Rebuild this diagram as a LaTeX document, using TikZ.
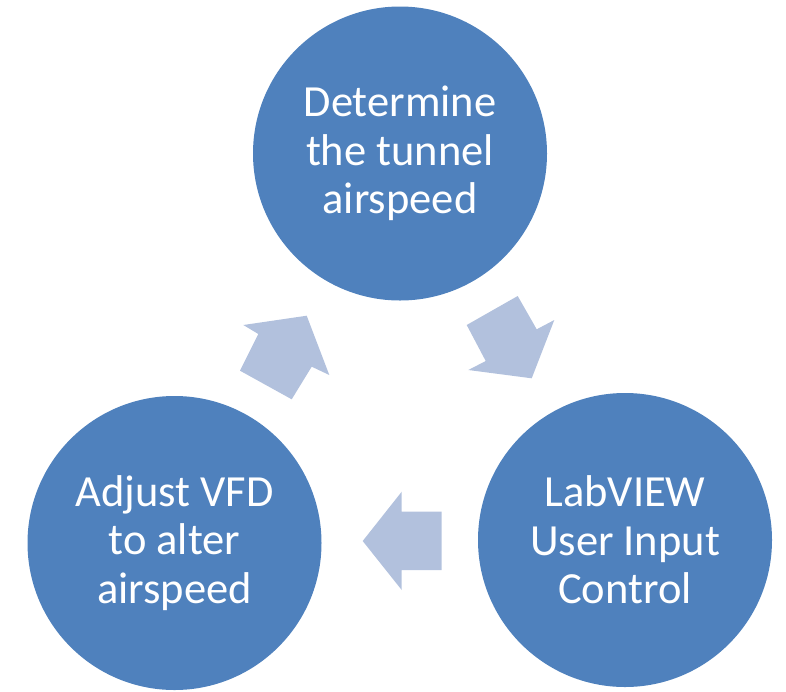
\documentclass[tikz,border=0pt]{standalone}
\usepackage{fontspec}
\setmainfont{Carlito}
\definecolor{circblue}{HTML}{4F81BD}
\definecolor{arrblue}{HTML}{B2C1DD}
\begin{document}
\begin{tikzpicture}[x=1pt,y=-1pt,
  stage/.style={circle,fill=circblue,draw=none,minimum size=294pt,inner sep=0pt,
    text=white,align=center,font=\fontsize{44.5}{48.5}\selectfont},
  blockarrow/.style={fill=arrblue,draw=none}]
\useasboundingbox (0,0) rectangle (786,691);
\node[stage] (top) at (400,153.5) {Determine\\the tunnel\\airspeed};
\node[stage] (right) at (625,540) {LabVIEW\\User Input\\Control};
\node[stage] (left) at (174.5,543) {Adjust VFD\\to alter\\airspeed};
% arrow left -> top
\fill[blockarrow] (243.3,325) -- (306.7,315.7) -- (329.3,375) -- (311.7,366.7)
  -- (291.7,399.3) -- (240,370.7) -- (258.3,334) -- cycle;
% arrow top -> right
\fill[blockarrow] (466.7,325) -- (517.7,296) -- (536.7,329.3) -- (554.3,320)
  -- (531.7,378.3) -- (468.3,370) -- (485.7,361) -- cycle;
% arrow right -> left
\fill[blockarrow] (441.7,511.7) -- (401.7,511.7) -- (401.7,491.7) -- (362.7,541)
  -- (401.7,590) -- (401.7,570) -- (441.7,570) -- cycle;
\end{tikzpicture}
\end{document}
